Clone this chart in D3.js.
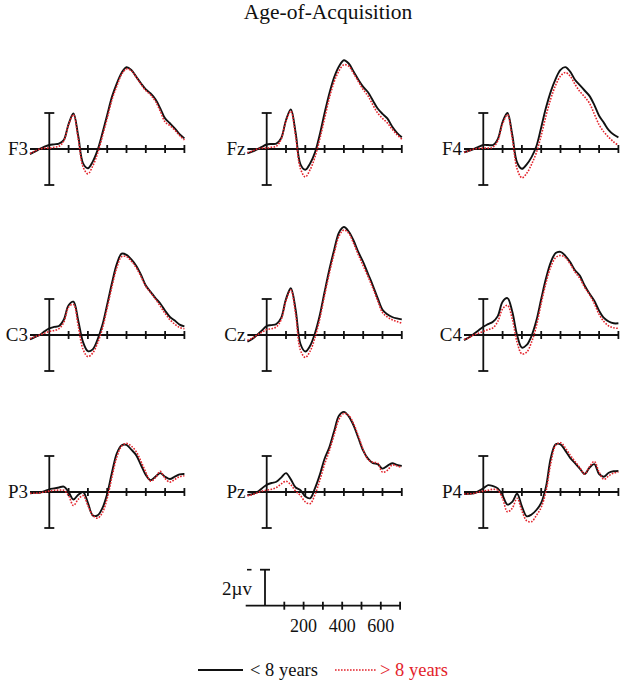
<!DOCTYPE html>
<html>
<head>
<meta charset="utf-8">
<script src="https://cdn.jsdelivr.net/npm/d3@7/dist/d3.min.js"></script>
<style>
  html, body { margin: 0; padding: 0; background: #fff; }
  #chart { width: 625px; height: 684px; }
  text { fill: #111; }
</style>
</head>
<body>
<div id="chart"></div>
<script>
// time points (ms) shared by every waveform
const times = [-100, -75, -50, -25, 0, 25, 50, 75, 100, 125, 150, 175, 200, 225, 250, 275, 300,
               325, 350, 375, 400, 425, 450, 475, 500, 525, 550, 575, 600, 625, 650, 675, 700];
const timeTicks = [100, 200, 300, 400, 500, 600, 700];
const scaleLabels = [200, 400, 600];

const channels = [["F3", "Fz", "F4"], ["C3", "Cz", "C4"], ["P3", "Pz", "P4"]];
const groups = ["< 8 years", "> 8 years"];

// amplitudes in µV, < 8 years (black) and > 8 years (red)
const f3Early = [-0.28, -0.15, 0, 0.13, 0.22, 0.26, 0.3, 0.5, 1.39, 1.98, 0.72, -0.8, -1.07, -0.7, -0.06, 0.87, 1.89,
                 2.91, 3.65, 4.24, 4.54, 4.39, 4.02, 3.65, 3.31, 3.09, 2.76, 2.26, 1.7, 1.43, 1.15, 0.83, 0.59];
const f3Late  = [-0.25, -0.12, 0, 0.05, 0.05, 0.1, 0.15, 0.45, 1.35, 1.9, 0.55, -1.0, -1.38, -0.95, -0.25, 0.7, 1.7,
                 2.75, 3.5, 4.15, 4.45, 4.35, 4.0, 3.6, 3.25, 3.0, 2.65, 2.1, 1.5, 1.3, 1.05, 0.75, 0.5];
const fzEarly = [-0.24, -0.15, -0.02, 0.12, 0.25, 0.28, 0.3, 0.6, 1.6, 2.2, 0.9, -0.85, -1.15, -0.8, -0.2, 0.8, 2.0,
                 3.1, 4.0, 4.6, 4.93, 4.75, 4.3, 3.85, 3.45, 3.15, 2.7, 2.25, 1.95, 1.7, 1.25, 0.9, 0.65];
const fzLate  = [-0.2, -0.12, 0, 0.05, 0.05, 0.1, 0.15, 0.55, 1.55, 2.1, 0.7, -1.1, -1.55, -1.15, -0.45, 0.55, 1.7,
                 2.85, 3.75, 4.35, 4.68, 4.6, 4.2, 3.75, 3.3, 2.95, 2.45, 2.0, 1.7, 1.45, 1.1, 0.8, 0.55];
const f4Early = [-0.18, -0.1, 0, 0.12, 0.22, 0.22, 0.22, 0.55, 1.5, 2.0, 0.8, -0.75, -1.1, -0.85, -0.45, 0.15, 1.2,
                 2.3, 3.2, 3.9, 4.4, 4.55, 4.3, 3.85, 3.55, 3.25, 2.95, 2.45, 1.85, 1.45, 1.05, 0.8, 0.65];
const f4Late  = [-0.18, -0.1, 0, 0.03, 0.05, 0.05, 0.1, 0.45, 1.4, 1.9, 0.6, -1.1, -1.6, -1.35, -0.85, -0.2, 0.75,
                 1.85, 2.8, 3.55, 4.05, 4.25, 4.05, 3.6, 3.2, 2.9, 2.55, 1.95, 1.35, 0.95, 0.65, 0.4, 0.2];
const c3Early = [-0.24, -0.12, 0, 0.2, 0.37, 0.45, 0.5, 0.85, 1.65, 1.85, 0.8, -0.4, -0.9, -0.8, -0.25, 0.55, 1.7,
                 2.9, 3.95, 4.52, 4.45, 4.2, 3.85, 3.35, 2.75, 2.4, 2.05, 1.75, 1.35, 1.0, 0.8, 0.58, 0.48];
const c3Late  = [-0.2, -0.1, 0, 0.1, 0.2, 0.25, 0.35, 0.7, 1.55, 1.7, 0.5, -0.8, -1.2, -1.0, -0.45, 0.35, 1.5,
                 2.7, 3.75, 4.35, 4.35, 4.1, 3.75, 3.25, 2.7, 2.35, 2.0, 1.6, 1.2, 0.85, 0.6, 0.42, 0.35];
const czEarly = [-0.37, -0.22, 0, 0.25, 0.5, 0.55, 0.61, 0.95, 2.0, 2.6, 1.4, -0.5, -0.92, -0.6, 0.1, 1.1, 2.4,
                 3.65, 4.75, 5.7, 6.0, 5.75, 5.25, 4.6, 4.05, 3.4, 2.75, 2.05, 1.4, 1.15, 1.0, 0.92, 0.87];
const czLate  = [-0.3, -0.18, 0, 0.15, 0.3, 0.35, 0.45, 0.85, 1.9, 2.5, 1.15, -0.85, -1.25, -0.9, -0.15, 0.9, 2.2,
                 3.45, 4.55, 5.5, 5.83, 5.65, 5.1, 4.45, 3.85, 3.25, 2.6, 1.9, 1.25, 1.0, 0.85, 0.75, 0.65];
const c4Early = [-0.28, -0.14, 0.05, 0.25, 0.46, 0.6, 0.74, 1.05, 1.85, 2.05, 1.3, 0.0, -0.7, -0.55, -0.05, 0.8, 2.0,
                 3.15, 4.05, 4.55, 4.62, 4.4, 4.05, 3.6, 3.3, 2.75, 2.3, 1.9, 1.35, 0.95, 0.75, 0.65, 0.65];
const c4Late  = [-0.25, -0.15, 0, 0.1, 0.2, 0.3, 0.4, 0.75, 1.45, 1.65, 0.9, -0.4, -1.05, -0.95, -0.4, 0.5, 1.75,
                 2.9, 3.8, 4.3, 4.42, 4.3, 3.95, 3.5, 3.15, 2.65, 2.25, 1.75, 1.15, 0.75, 0.5, 0.4, 0.37];
const p3Early = [-0.07, -0.05, -0.04, 0.05, 0.15, 0.2, 0.25, 0.3, 0.0, -0.42, -0.15, 0.0, -0.6, -1.3, -1.3, -0.9, -0.1,
                 1.1, 2.15, 2.6, 2.62, 2.35, 2.05, 1.5, 0.95, 0.65, 0.85, 1.05, 0.85, 0.72, 0.85, 0.98, 1.0];
const p3Late  = [-0.07, -0.07, -0.05, 0.0, 0.05, 0.1, 0.1, 0.1, -0.2, -0.75, -0.4, -0.2, -0.75, -1.3, -1.45, -1.15, -0.35,
                 0.85, 1.95, 2.55, 2.7, 2.55, 2.25, 1.7, 1.1, 0.6, 0.8, 1.15, 0.75, 0.55, 0.7, 0.85, 0.9];
const pzEarly = [-0.17, -0.12, 0.0, 0.2, 0.4, 0.5, 0.57, 0.8, 1.05, 0.7, 0.25, 0.1, -0.25, -0.35, 0.2, 0.95, 1.85,
                 2.5, 3.4, 4.25, 4.45, 4.2, 3.7, 3.0, 2.3, 1.85, 1.6, 1.55, 1.3, 1.45, 1.6, 1.5, 1.45];
const pzLate  = [-0.2, -0.15, -0.05, 0.05, 0.1, 0.15, 0.25, 0.45, 0.6, 0.4, 0.05, -0.2, -0.55, -0.65, -0.15, 0.65, 1.55,
                 2.3, 3.2, 4.05, 4.37, 4.25, 3.8, 3.1, 2.35, 1.8, 1.65, 1.6, 1.1, 1.2, 1.5, 1.45, 1.35];
const p4Early = [-0.11, -0.1, -0.07, 0.05, 0.2, 0.38, 0.33, 0.2, -0.2, -0.7, -0.55, -0.1, -0.8, -1.35, -1.25, -1.0, -0.6,
                 0.3, 1.9, 2.65, 2.65, 2.3, 1.9, 1.6, 1.3, 1.0, 1.35, 1.55, 1.0, 0.85, 1.07, 1.15, 1.17];
const p4Late  = [-0.11, -0.1, -0.08, 0.0, 0.05, 0.1, 0.15, 0.1, -0.35, -1.1, -0.9, -0.35, -1.05, -1.6, -1.65, -1.3, -0.85,
                 0.05, 1.6, 2.6, 2.74, 2.45, 2.05, 1.7, 1.35, 1.0, 1.4, 1.7, 1.1, 0.7, 0.9, 1.05, 1.1];

const waves = {
    F3: [f3Early, f3Late], Fz: [fzEarly, fzLate], F4: [f4Early, f4Late],
    C3: [c3Early, c3Late], Cz: [czEarly, czLate], C4: [c4Early, c4Late],
    P3: [p3Early, p3Late], Pz: [pzEarly, pzLate], P4: [p4Early, p4Late]
};

const black = "#111";
const red = "#e3232b";

// panel layout: x of the 0 ms line per column, baseline y per row
const colX = [49.3, 266.7, 483.3];
const rowY = [149, 335, 492];
const msPx = 0.193;   // px per ms
const uvPx = 18;      // px per µV

const svg = d3.select("#chart")
    .append("svg")
    .attr("width", 625)
    .attr("height", 684)
    .attr("font-family", "'Liberation Serif', 'Times New Roman', 'DejaVu Serif', serif");

svg.append("text")
    .attr("x", 328)
    .attr("y", 19)
    .attr("text-anchor", "middle")
    .attr("font-size", "21.5px")
    .text("Age-of-Acquisition");

function drawAxes(g, x, y, full) {
    const axis = g.append("g").attr("stroke", black).attr("stroke-width", 1.8).attr("fill", "none");
    axis.append("line")
        .attr("x1", x(-100)).attr("x2", x(700))
        .attr("y1", y(0)).attr("y2", y(0));
    axis.selectAll(".tick")
        .data(timeTicks)
        .join("line")
        .attr("x1", d => x(d)).attr("x2", d => x(d))
        .attr("y1", y(0) - 4).attr("y2", y(0) + 4);
    const top = 2, bottom = full ? -2 : 0;
    axis.append("line")
        .attr("x1", x(0)).attr("x2", x(0))
        .attr("y1", y(top)).attr("y2", y(bottom));
    axis.append("line")
        .attr("x1", x(0) - 5).attr("x2", x(0) + 5)
        .attr("y1", y(top)).attr("y2", y(top));
    if (full) {
        axis.append("line")
            .attr("x1", x(0) - 5).attr("x2", x(0) + 5)
            .attr("y1", y(bottom)).attr("y2", y(bottom));
    }
}

channels.forEach((row, r) => {
    row.forEach((name, c) => {
        const cx = colX[c], cy = rowY[r];
        const x = d3.scaleLinear().domain([0, 100]).range([cx, cx + 100 * msPx]);
        const y = d3.scaleLinear().domain([0, 1]).range([cy, cy - uvPx]);
        const g = svg.append("g");

        drawAxes(g, x, y, true);

        g.append("text")
            .attr("x", x(-100) - 2)
            .attr("y", cy + 5.5)
            .attr("text-anchor", "end")
            .attr("font-size", "19px")
            .text(name);

        const line = d3.line()
            .x((d, i) => x(times[i]))
            .y(d => y(d))
            .curve(d3.curveCatmullRom.alpha(0.5));

        g.append("path")
            .datum(waves[name][0])
            .attr("d", line)
            .attr("fill", "none")
            .attr("stroke", black)
            .attr("stroke-width", 1.9);

        g.append("path")
            .datum(waves[name][1])
            .attr("d", line)
            .attr("fill", "none")
            .attr("stroke", red)
            .attr("stroke-width", 1.6)
            .attr("stroke-dasharray", "1.6,1.4");
    });
});

// calibration panel
const sx = d3.scaleLinear().domain([0, 100]).range([265, 265 + 100 * msPx]);
const sy = d3.scaleLinear().domain([0, 1]).range([605.7, 605.7 - uvPx]);
const cal = svg.append("g");
drawAxes(cal, sx, sy, false);
cal.append("line")
    .attr("x1", sx(0) - 18).attr("x2", sx(0) - 13.5)
    .attr("y1", sy(2)).attr("y2", sy(2))
    .attr("stroke", black).attr("stroke-width", 1.6);
cal.append("text")
    .attr("x", sx(0) - 13)
    .attr("y", 595)
    .attr("text-anchor", "end")
    .attr("font-size", "19px")
    .text("2µv");
cal.selectAll(".lab")
    .data(scaleLabels)
    .join("text")
    .attr("x", d => sx(d))
    .attr("y", 632)
    .attr("text-anchor", "middle")
    .attr("font-size", "18px")
    .text(d => d);

// legend
const legend = svg.append("g");
legend.append("line")
    .attr("x1", 198).attr("x2", 243).attr("y1", 670).attr("y2", 670)
    .attr("stroke", black).attr("stroke-width", 1.9);
legend.append("text")
    .attr("x", 250).attr("y", 676)
    .attr("font-size", "18.5px")
    .text(groups[0]);
legend.append("line")
    .attr("x1", 335).attr("x2", 377).attr("y1", 670).attr("y2", 670)
    .attr("stroke", red).attr("stroke-width", 1.6)
    .attr("stroke-dasharray", "1.6,1.4");
legend.append("text")
    .attr("x", 380).attr("y", 676)
    .attr("font-size", "18.5px")
    .style("fill", red)
    .text(groups[1]);
</script>
</body>
</html>
